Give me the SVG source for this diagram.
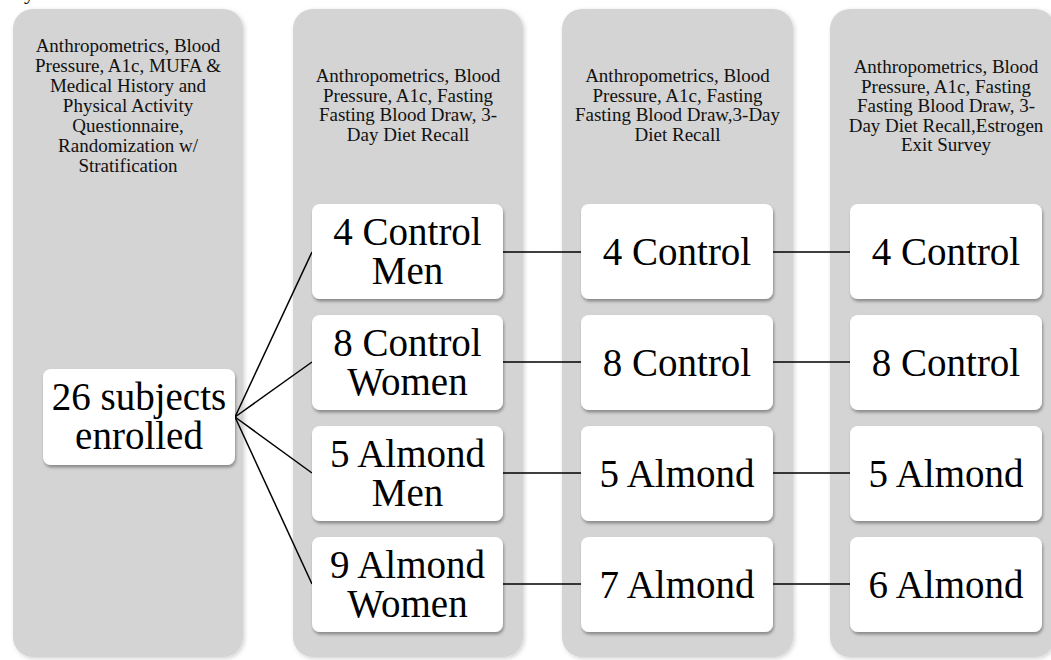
<svg xmlns="http://www.w3.org/2000/svg" width="1051" height="660" viewBox="0 0 1051 660">
<defs>
<filter id="sh" x="-10%" y="-10%" width="125%" height="130%">
<feDropShadow dx="1" dy="2.5" stdDeviation="1.8" flood-color="#000" flood-opacity="0.35"/>
</filter>
<filter id="shc" x="-10%" y="-5%" width="125%" height="115%">
<feDropShadow dx="1.5" dy="1.5" stdDeviation="2" flood-color="#000" flood-opacity="0.18"/>
</filter>
</defs>
<style>
.col{fill:#d4d4d4;filter:url(#shc)}
.nd{fill:#ffffff;filter:url(#sh)}
.sm{font-family:"Liberation Serif",serif;font-size:19px;fill:#111;text-anchor:middle}
.bg{font-family:"Liberation Serif",serif;font-size:39px;fill:#000;text-anchor:middle}
.ln{stroke:#000;stroke-width:1.5;fill:none}
</style>
<rect width="1051" height="660" fill="#fff"/>
<text x="24" y="-1" style="font-family:'Liberation Serif',serif;font-size:22px">y</text>

<g id="col1">
<rect class="col" x="13" y="9" width="230" height="648" rx="20"/>
<text class="sm" x="128" y="51.5">Anthropometrics, Blood</text>
<text class="sm" x="128" y="71.5">Pressure, A1c, MUFA &amp;</text>
<text class="sm" x="128" y="91.5">Medical History and</text>
<text class="sm" x="128" y="111.5">Physical Activity</text>
<text class="sm" x="128" y="131.5">Questionnaire,</text>
<text class="sm" x="128" y="151.5">Randomization w/</text>
<text class="sm" x="128" y="171.5">Stratification</text>
</g>
<g id="col2">
<rect class="col" x="293" y="9" width="230" height="648" rx="20"/>
<text class="sm" x="408" y="82">Anthropometrics, Blood</text>
<text class="sm" x="408" y="101.5">Pressure, A1c, Fasting</text>
<text class="sm" x="408" y="121">Fasting Blood Draw, 3-</text>
<text class="sm" x="408" y="140.5">Day Diet Recall</text>
</g>
<g id="col3">
<rect class="col" x="562" y="9" width="231" height="648" rx="20"/>
<text class="sm" x="677.5" y="82">Anthropometrics, Blood</text>
<text class="sm" x="677.5" y="101.5">Pressure, A1c, Fasting</text>
<text class="sm" x="677.5" y="121">Fasting Blood Draw,3-Day</text>
<text class="sm" x="677.5" y="140.5">Diet Recall</text>
</g>
<g id="col4">
<rect class="col" x="830" y="9" width="225" height="648" rx="20"/>
<text class="sm" x="946" y="73">Anthropometrics, Blood</text>
<text class="sm" x="946" y="92.5">Pressure, A1c, Fasting</text>
<text class="sm" x="946" y="112">Fasting Blood Draw, 3-</text>
<text class="sm" x="946" y="131.5">Day Diet Recall,Estrogen</text>
<text class="sm" x="946" y="151">Exit Survey</text>
</g>

<g id="connectors">
<line class="ln" x1="235" y1="417" x2="312" y2="252"/>
<line class="ln" x1="235" y1="417" x2="312" y2="362"/>
<line class="ln" x1="235" y1="417" x2="312" y2="473"/>
<line class="ln" x1="235" y1="417" x2="312" y2="584"/>
<line class="ln" x1="503" y1="252" x2="581" y2="252"/>
<line class="ln" x1="503" y1="362" x2="581" y2="362"/>
<line class="ln" x1="503" y1="473" x2="581" y2="473"/>
<line class="ln" x1="503" y1="584" x2="581" y2="584"/>
<line class="ln" x1="773" y1="252" x2="850" y2="252"/>
<line class="ln" x1="773" y1="362" x2="850" y2="362"/>
<line class="ln" x1="773" y1="473" x2="850" y2="473"/>
<line class="ln" x1="773" y1="584" x2="850" y2="584"/>
</g>

<g id="n-enrolled">
<rect class="nd" x="43" y="369" width="192" height="96" rx="8"/>
<text class="bg" x="139" y="410">26 subjects</text>
<text class="bg" x="139" y="449">enrolled</text>
</g>

<g id="n-c2-1"><rect class="nd" x="312" y="204" width="191" height="95" rx="8"/>
<text class="bg" x="407.5" y="245">4 Control</text><text class="bg" x="407.5" y="284">Men</text></g>
<g id="n-c2-2"><rect class="nd" x="312" y="315" width="191" height="95" rx="8"/>
<text class="bg" x="407.5" y="356">8 Control</text><text class="bg" x="407.5" y="395">Women</text></g>
<g id="n-c2-3"><rect class="nd" x="312" y="426" width="191" height="95" rx="8"/>
<text class="bg" x="407.5" y="467">5 Almond</text><text class="bg" x="407.5" y="506">Men</text></g>
<g id="n-c2-4"><rect class="nd" x="312" y="537" width="191" height="95" rx="8"/>
<text class="bg" x="407.5" y="578">9 Almond</text><text class="bg" x="407.5" y="617">Women</text></g>

<g id="n-c3-1"><rect class="nd" x="581" y="204" width="192" height="95" rx="8"/>
<text class="bg" x="677" y="265">4 Control</text></g>
<g id="n-c3-2"><rect class="nd" x="581" y="315" width="192" height="95" rx="8"/>
<text class="bg" x="677" y="376">8 Control</text></g>
<g id="n-c3-3"><rect class="nd" x="581" y="426" width="192" height="95" rx="8"/>
<text class="bg" x="677" y="487">5 Almond</text></g>
<g id="n-c3-4"><rect class="nd" x="581" y="537" width="192" height="95" rx="8"/>
<text class="bg" x="677" y="598">7 Almond</text></g>

<g id="n-c4-1"><rect class="nd" x="850" y="204" width="192" height="95" rx="8"/>
<text class="bg" x="946" y="265">4 Control</text></g>
<g id="n-c4-2"><rect class="nd" x="850" y="315" width="192" height="95" rx="8"/>
<text class="bg" x="946" y="376">8 Control</text></g>
<g id="n-c4-3"><rect class="nd" x="850" y="426" width="192" height="95" rx="8"/>
<text class="bg" x="946" y="487">5 Almond</text></g>
<g id="n-c4-4"><rect class="nd" x="850" y="537" width="192" height="95" rx="8"/>
<text class="bg" x="946" y="598">6 Almond</text></g>
</svg>
